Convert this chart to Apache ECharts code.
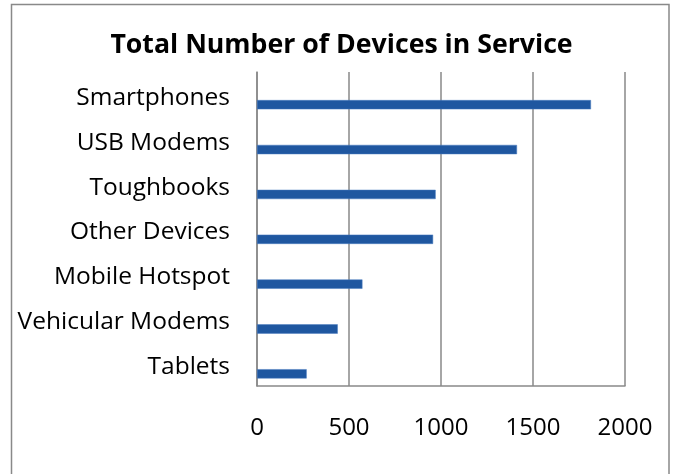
<!DOCTYPE html>
<html>
<head>
<meta charset="utf-8">
<script src="https://cdn.jsdelivr.net/npm/echarts@6/dist/echarts.min.js"></script>
<style>
html,body{margin:0;padding:0;background:#fff;}
#chart{width:673px;height:474px;}
</style>
</head>
<body>
<div id="chart"></div>
<script>
const categories = ["Smartphones", "USB Modems", "Toughbooks", "Other Devices", "Mobile Hotspot", "Vehicular Modems", "Tablets"];
const devices = [1815, 1413, 971, 957, 573, 439, 270];
const emptySeries = [null, null, null, null, null, null, null];
const xTicks = { min: 0, max: 2000, interval: 500 };
const titleText = "Total Number of Devices in Service";

const chart = echarts.init(document.getElementById('chart'), null, { renderer: 'canvas' });
chart.setOption({
  backgroundColor: '#fff',
  animation: false,
  graphic: [{
    type: 'rect',
    shape: { x: 11.5, y: 4.5, width: 657.5, height: 480 },
    style: { fill: 'none', stroke: '#898989', lineWidth: 1.5 },
    silent: true
  }, {
    type: 'text',
    x: 341.5, y: 45,
    style: { text: titleText, fontFamily: 'Open Sans', fontSize: 26.7, fontWeight: 'bold', fill: '#000',
      align: 'center', verticalAlign: 'middle' },
    silent: true
  }],
  grid: { left: 257, right: 48, top: 72, bottom: 88, containLabel: false },
  xAxis: {
    type: 'value',
    min: xTicks.min, max: xTicks.max, interval: xTicks.interval,
    axisLine: { show: true, lineStyle: { color: '#898989', width: 1.5 } },
    axisTick: { show: false },
    splitLine: { show: true, lineStyle: { color: '#898989', width: 1.5 } },
    axisLabel: { fontFamily: 'Open Sans', fontSize: 24, color: '#000', margin: 30,
      formatter: function (v) { return String(v); } }
  },
  yAxis: {
    type: 'category',
    data: categories,
    inverse: true,
    axisLine: { show: true, lineStyle: { color: '#898989', width: 1.5 } },
    axisTick: { show: false },
    axisLabel: { fontFamily: 'Open Sans', fontSize: 24.5, color: '#000', margin: 27,
      verticalAlign: 'top', lineHeight: 7 }
  },
  series: [
    {
      type: 'bar', name: 'empty', data: emptySeries,
      barWidth: 9.3, barGap: '121%'
    },
    {
      type: 'bar', name: 'Devices', data: devices,
      barWidth: 9.3, barGap: '121%',
      itemStyle: { color: '#1F57A0', borderColor: '#4a7cc0', borderWidth: 0.5 }
    }
  ]
});
</script>
</body>
</html>
